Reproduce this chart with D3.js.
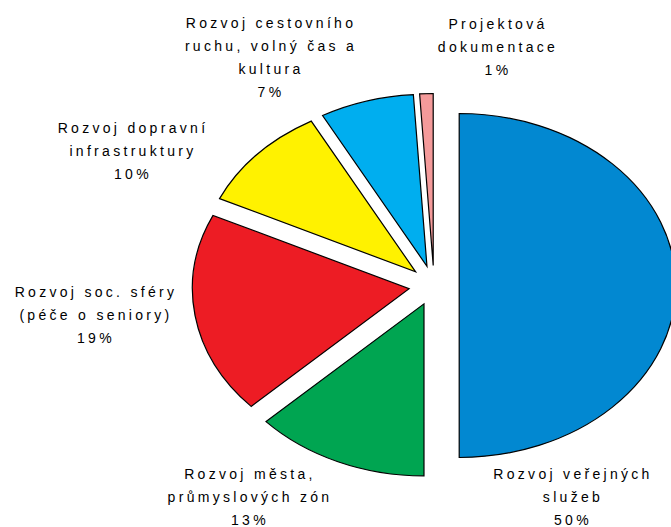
<!DOCTYPE html>
<html>
<head>
<meta charset="utf-8">
<script src="https://cdn.jsdelivr.net/npm/d3@7"></script>
<style>
  body { margin: 0; background: #fff; }
  text { font-family: "Liberation Sans", Arial, sans-serif; }
</style>
</head>
<body>
<div id="chart"></div>
<script>
// pie data, clockwise from 12 o'clock
var categories = [
  ["Rozvoj veřejných", "služeb"],
  ["Rozvoj města,", "průmyslových zón"],
  ["Rozvoj soc. sféry", "(péče o seniory)"],
  ["Rozvoj dopravní", "infrastruktury"],
  ["Rozvoj cestovního", "ruchu, volný čas a", "kultura"],
  ["Projektová", "dokumentace"]
];
var shares = [50, 13, 19, 10, 7, 1];
var percentLabels = ["50%", "13%", "19%", "10%", "7%", "1%"];

var colors = ["#0288d1", "#00a551", "#ed1c24", "#fff200", "#00aeef", "#f49a9a"];

// where the label blocks sit (centre x, first baseline y)
var labelAnchor = [[573, 479], [250, 479], [96, 297], [133, 133], [271, 28], [498, 29]];

var w = 671,
    h = 527;

var cx = 434, cy = 285.5,
    r = 172,
    stretch = 1.26,      //the pie is drawn wider than tall
    explode = 20,
    lineH = 23;

var svg = d3.select("#chart").append("svg")
    .attr("width", w)
    .attr("height", h);

var pie = d3.pie().sort(null).value(function(d){ return d; });
var arc = d3.arc().innerRadius(0).outerRadius(r);

var slices = pie(shares);

var g = svg.append("g")
    .attr("transform", "translate(" + cx + "," + cy + ") scale(" + stretch + ",1)");

g.selectAll("path")
    .data(slices)
  .enter().append("path")
    .attr("d", arc)
    .attr("transform", function(d){
        var a = (d.startAngle + d.endAngle) / 2;
        return "translate(" + (Math.sin(a) * explode) + "," + (-Math.cos(a) * explode) + ")";
    })
    .attr("fill", function(d, i){ return colors[i]; })
    .attr("stroke", "#000")
    .attr("stroke-width", 1.2)
    .attr("vector-effect", "non-scaling-stroke")
    .attr("stroke-linejoin", "miter");

//labels
var labels = svg.append("g");
categories.forEach(function(lines, i){
    var t = labels.append("text")
        .attr("x", labelAnchor[i][0])
        .attr("y", labelAnchor[i][1])
        .attr("text-anchor", "middle")
        .attr("font-size", 14)
        .attr("letter-spacing", 3.3)
        .attr("fill", "#000");
    lines.concat([percentLabels[i]]).forEach(function(s, j){
        t.append("tspan")
            .attr("x", labelAnchor[i][0])
            .attr("dy", j === 0 ? 0 : lineH)
            .text(s);
    });
});
</script>
</body>
</html>
